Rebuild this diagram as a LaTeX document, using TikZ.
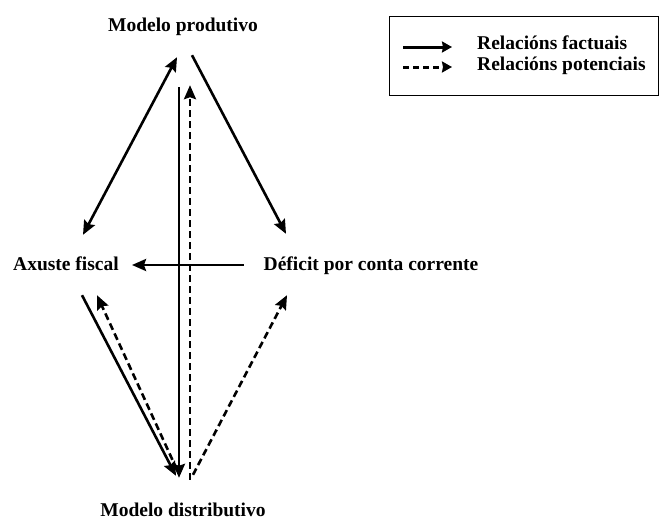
\documentclass[tikz,border=0pt]{standalone}
\usepackage{fontspec}
\setmainfont{Liberation Serif}
\usetikzlibrary{arrows.meta}
\tikzset{
    txt/.style={font=\bfseries\fontsize{19.5}{22}\selectfont, inner sep=0pt, text height=14pt, text depth=4pt},
    fact/.style={line width=2.6pt, -{Stealth[length=14pt,width=12pt,inset=2pt]}},
    pot/.style={fact, dash pattern=on 7pt off 4pt},
    legfact/.style={line width=3pt, -{Stealth[length=10pt,width=11pt,inset=1pt]}},
    legpot/.style={legfact, dash pattern=on 6pt off 4pt},
}
\begin{document}
\begin{tikzpicture}[x=1pt,y=-1pt]
    \useasboundingbox (0,0) rectangle (659,522);
    % nodes
    \node[txt] (prod)    at (183,26)  {Modelo produtivo};
    \node[txt] (axuste)  at (66,265)  {Axuste fiscal};
    \node[txt] (deficit) at (371,265) {Déficit por conta corrente};
    \node[txt] (dist)    at (183,511) {Modelo distributivo};
    % relations
    \draw[fact, {Stealth[length=14pt,width=12pt,inset=2pt]}-{Stealth[length=14pt,width=12pt,inset=2pt]}]
        ([xshift=-6pt,yshift=-22pt]prod.south) -- ([xshift=17pt,yshift=21pt]axuste.north);
    \draw[fact] ([xshift=9pt,yshift=-20pt]prod.south) -- ([xshift=-85pt,yshift=22pt]deficit.north);
    \draw[fact] ([xshift=-4pt,yshift=-52pt]prod.south) -- ([xshift=-4pt,yshift=24pt]dist.north);
    \draw[pot]  ([xshift=7pt,yshift=22pt]dist.north) -- ([xshift=7pt,yshift=-50pt]prod.south);
    \draw[fact] ([xshift=-20pt]deficit.west) -- ([xshift=13pt]axuste.east);
    \draw[fact] ([xshift=16pt,yshift=-21pt]axuste.south) -- ([xshift=-7pt,yshift=26pt]dist.north);
    \draw[pot]  ([xshift=-6pt,yshift=32pt]dist.north) -- ([xshift=31pt,yshift=-21pt]axuste.south);
    \draw[pot]  ([xshift=10pt,yshift=27pt]dist.north) -- ([xshift=-84pt,yshift=-21pt]deficit.south);
    % legend
    \draw[line width=0.8pt] (389,16) rectangle (658,95);
    \node[txt, anchor=west] (lfact) at (477,44) {Relacións factuais};
    \node[txt, anchor=west] (lpot)  at (477,65) {Relacións potenciais};
    \draw[legfact] ([xshift=-74pt,yshift=-3pt]lfact.west) -- ([xshift=-25pt,yshift=-3pt]lfact.west);
    \draw[legpot]  ([xshift=-74pt,yshift=-2pt]lpot.west) -- ([xshift=-25pt,yshift=-2pt]lpot.west);
\end{tikzpicture}
\end{document}
